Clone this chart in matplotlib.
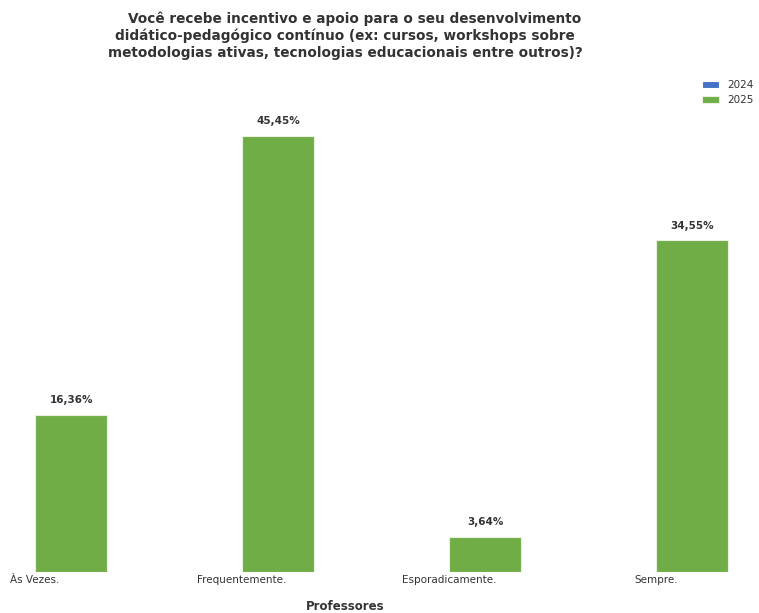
import matplotlib
matplotlib.use("Agg")
import matplotlib.pyplot as plt
import numpy as np

categories = ["Às Vezes.", "Frequentemente.", "Esporadicamente.", "Sempre."]
values_2024 = [0, 0, 0, 0]
values_2025 = [16.36, 45.45, 3.64, 34.55]
labels_2025 = ["16,36%", "45,45%", "3,64%", "34,55%"]
series_names = ["2024", "2025"]
title = ("    Você recebe incentivo e apoio para o seu desenvolvimento\n"
         "didático-pedagógico contínuo (ex: cursos, workshops sobre\n"
         "metodologias ativas, tecnologias educacionais entre outros)?")

plt.rcParams['font.family'] = ['DejaVu Sans Condensed', 'DejaVu Sans']
txt = '#333333'

W, H = 759, 613
fig = plt.figure(figsize=(W / 100, H / 100), dpi=100)
ax_left, ax_right = 0, 745
ax_bottom, ax_top = 572, 92
ax = fig.add_axes([ax_left / W, (H - ax_bottom) / H, (ax_right - ax_left) / W, (ax_bottom - ax_top) / H])

x = np.arange(len(categories))
w = 0.35
ax.bar(x - w / 2, values_2024, w, color='#4472C4', label=series_names[0], edgecolor='white', linewidth=0.8)
bars = ax.bar(x + w / 2, values_2025, w, color='#70AD47', label=series_names[1], edgecolor='#e8f0e0', linewidth=0.8)

for b, lab in zip(bars, labels_2025):
    ax.annotate(lab, (b.get_x() + b.get_width() / 2, b.get_height()), xytext=(0, 7),
                textcoords='offset points', ha='center', va='bottom', fontsize=7.5,
                fontweight='bold', color=txt)

ax.set_xlim(-35 / 207, (ax_right - 35) / 207)
ax.set_ylim(0, 50)
ax.set_xticks(x)
ax.set_xticklabels(categories, fontsize=7.5, color=txt)
ax.tick_params(axis='x', length=0, pad=2)
ax.set_yticks([])
for s in ax.spines.values():
    s.set_visible(False)

fig.text(345 / W, 1 - 607 / H, "Professores", fontsize=8.5, fontweight='bold', color=txt,
         ha='center', va='center')
fig.text(345 / W, 1 - 12 / H, title, fontsize=9.8, fontweight='bold', color=txt,
         ha='center', va='top', linespacing=1.2)

leg = fig.legend(loc='upper left', bbox_to_anchor=(698 / W, 1 - 76 / H), frameon=False, fontsize=7.5,
                 handlelength=1.6, handleheight=0.6, labelcolor=txt, borderaxespad=0)

fig.savefig("out.png", dpi=100)
